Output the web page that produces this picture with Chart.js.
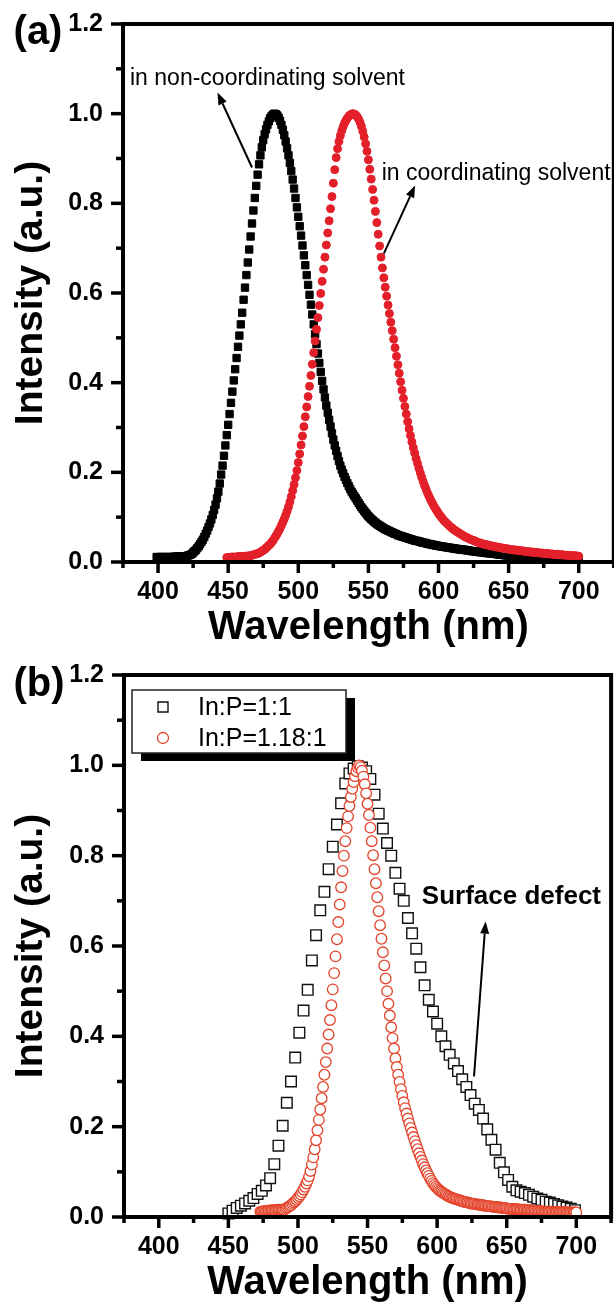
<!DOCTYPE html>
<html>
<head>
<meta charset="utf-8">
<script src="https://cdn.jsdelivr.net/npm/chart.js@4.4.1/dist/chart.umd.min.js"></script>
<style>
  html, body { margin: 0; padding: 0; background: #fff; overflow: hidden; }
  canvas { display: block; }
</style>
</head>
<body>
<canvas id="chartA" width="620" height="650"></canvas>
<canvas id="chartB" width="620" height="654"></canvas>
<script>
// ---- panel (a): PL spectra, 1 nm sampling ----
const blackAStart = 399; // in non-coordinating solvent
const blackA = [
  0.011,0.011,0.011,0.011,0.011,0.011,0.011,0.011,0.011,0.011,0.011,0.011,0.011,0.012,0.012,0.012,0.012,0.012,0.012,0.013,0.013,0.013,
  0.014,0.015,0.016,0.018,0.021,0.024,0.027,0.031,0.035,0.040,0.045,0.050,0.056,0.063,0.070,0.078,0.086,0.095,0.105,0.116,
  0.128,0.142,0.157,0.175,0.195,0.215,0.237,0.260,0.283,0.306,0.330,0.355,0.380,0.405,0.430,0.455,0.480,0.505,0.530,0.556,
  0.585,0.612,0.640,0.668,0.697,0.726,0.755,0.784,0.812,0.839,0.864,0.887,0.907,0.925,0.941,0.954,0.965,0.975,0.983,0.990,
  0.995,0.998,1.000,0.999,0.996,0.991,0.984,0.975,0.964,0.952,0.938,0.923,0.907,0.890,0.872,0.853,0.833,0.812,0.791,0.770,
  0.749,0.728,0.706,0.684,0.662,0.640,0.618,0.596,0.574,0.552,0.530,0.508,0.486,0.465,0.444,0.424,0.404,0.385,0.367,0.349,
  0.333,0.317,0.302,0.287,0.273,0.260,0.248,0.236,0.225,0.215,0.206,0.198,0.190,0.183,0.176,0.169,0.163,0.157,0.152,0.147,
  0.142,0.137,0.132,0.127,0.122,0.118,0.114,0.110,0.106,0.102,0.099,0.096,0.093,0.090,0.088,0.085,0.083,0.081,0.079,0.077,
  0.075,0.073,0.072,0.070,0.069,0.067,0.066,0.064,0.063,0.062,0.060,0.059,0.058,0.057,0.056,0.055,0.054,0.053,0.052,0.051,
  0.050,0.049,0.048,0.047,0.047,0.046,0.045,0.044,0.043,0.043,0.042,0.041,0.040,0.040,0.039,0.038,0.038,0.037,0.036,0.036,
  0.035,0.035,0.034,0.034,0.033,0.033,0.032,0.032,0.031,0.031,0.030,0.030,0.029,0.029,0.028,0.028,0.028,0.027,0.027,0.026,
  0.026,0.025,0.025,0.024,0.024,0.024,0.023,0.023,0.022,0.022,0.022,0.021,0.021,0.020,0.020,0.020,0.019,0.019,0.019,0.018,
  0.018,0.017,0.017,0.016,0.016,0.016,0.015,0.015,0.015,0.014,0.014,0.014,0.013,0.013,0.013,0.013,0.012,0.012,0.012,0.012,
  0.011,0.011,0.011,0.011,0.011,0.010,0.010,0.010,0.010,0.010,0.010,0.009,0.009,0.009,0.009,0.009,0.009,0.009,0.008,0.008,
  0.008,0.008,0.008,0.008,0.008,0.008,0.008,0.008,0.008,0.008,0.008,0.007,0.007,0.007,0.007,0.007,0.007,0.007,0.007,0.007
];
const redAStart = 449; // in coordinating solvent
const redA = [
  0.010,0.010,0.010,0.011,0.011,0.011,0.011,0.011,0.012,0.012,0.012,0.012,0.012,0.013,0.013,0.013,0.014,0.014,0.015,0.016,0.017,0.018,
  0.019,0.020,0.022,0.024,0.026,0.028,0.031,0.034,0.037,0.040,0.044,0.048,0.053,0.058,0.063,0.069,0.075,0.082,0.089,0.096,
  0.104,0.113,0.123,0.134,0.146,0.159,0.173,0.188,0.204,0.222,0.241,0.261,0.281,0.302,0.324,0.346,0.369,0.392,0.416,0.441,
  0.467,0.493,0.519,0.545,0.572,0.599,0.626,0.653,0.680,0.707,0.734,0.761,0.788,0.815,0.845,0.875,0.902,0.922,0.938,0.951,
  0.962,0.971,0.979,0.985,0.990,0.994,0.997,0.999,1.000,0.999,0.997,0.993,0.988,0.981,0.972,0.961,0.948,0.933,0.916,0.897,
  0.876,0.854,0.831,0.807,0.782,0.757,0.731,0.705,0.680,0.656,0.634,0.613,0.593,0.573,0.554,0.535,0.516,0.497,0.478,0.459,
  0.440,0.421,0.402,0.383,0.365,0.347,0.330,0.313,0.297,0.282,0.268,0.255,0.243,0.231,0.220,0.209,0.199,0.189,0.180,0.171,
  0.163,0.155,0.148,0.141,0.135,0.129,0.123,0.118,0.113,0.108,0.104,0.100,0.096,0.092,0.089,0.086,0.083,0.080,0.077,0.075,
  0.072,0.070,0.068,0.066,0.064,0.062,0.060,0.058,0.056,0.055,0.053,0.052,0.050,0.049,0.048,0.047,0.045,0.044,0.043,0.042,
  0.041,0.040,0.039,0.039,0.038,0.037,0.036,0.036,0.035,0.034,0.034,0.033,0.033,0.032,0.031,0.031,0.030,0.030,0.029,0.029,
  0.028,0.028,0.027,0.027,0.027,0.026,0.026,0.025,0.025,0.025,0.024,0.024,0.023,0.023,0.023,0.022,0.022,0.022,0.021,0.021,
  0.021,0.020,0.020,0.020,0.019,0.019,0.019,0.019,0.018,0.018,0.018,0.017,0.017,0.017,0.017,0.016,0.016,0.016,0.016,0.015,
  0.015,0.015,0.015,0.014,0.014,0.014,0.014,0.014,0.013,0.013
];

// ---- panel (b) ----
const blackBStart = 450, blackBStep = 3; // In:P=1:1
const blackB = [
  0.008,0.014,0.020,0.025,0.030,0.036,0.042,0.051,0.058,0.070,
  0.086,0.117,0.158,0.202,0.253,0.300,0.353,0.408,0.457,0.503,
  0.568,0.624,0.679,0.720,0.770,0.820,0.869,0.916,0.960,0.982,
  0.993,0.998,0.995,0.987,0.970,0.935,0.893,0.860,0.828,0.800,
  0.762,0.727,0.700,0.662,0.628,0.594,0.553,0.513,0.481,0.455,
  0.428,0.400,0.378,0.359,0.340,0.323,0.305,0.288,0.270,0.251,
  0.237,0.218,0.194,0.171,0.149,0.120,0.099,0.082,0.067,0.059,
  0.056,0.053,0.049,0.045,0.041,0.038,0.034,0.032,0.029,0.026,
  0.023,0.021,0.018,0.015
];
const redBStart = 473; // In:P=1.18:1, 1 nm sampling
const redB = [
  0.012,0.012,0.013,0.013,0.013,0.014,0.014,0.014,0.015,0.015,0.015,0.015,0.016,0.016,0.016,0.016,0.016,0.016,
  0.018,0.020,0.022,0.024,0.026,0.029,0.032,0.035,0.038,0.042,0.046,0.050,0.055,0.061,0.067,0.074,0.081,0.090,0.102,0.116,
  0.132,0.150,0.170,0.192,0.215,0.238,0.263,0.288,0.315,0.343,0.373,0.404,0.436,0.469,0.504,0.540,0.577,0.615,0.653,0.692,
  0.730,0.766,0.800,0.832,0.861,0.887,0.910,0.930,0.948,0.963,0.976,0.987,0.995,1.000,0.996,0.988,0.975,0.958,0.938,0.915,
  0.890,0.862,0.832,0.801,0.770,0.739,0.708,0.677,0.646,0.616,0.586,0.557,0.528,0.500,0.472,0.446,0.420,0.396,0.373,0.351,
  0.332,0.315,0.299,0.283,0.268,0.254,0.241,0.229,0.218,0.207,0.197,0.187,0.177,0.168,0.159,0.150,0.141,0.133,0.125,0.117,
  0.110,0.103,0.097,0.091,0.085,0.080,0.075,0.071,0.067,0.064,0.061,0.058,0.056,0.054,0.052,0.050,0.048,0.046,0.045,0.043,
  0.042,0.041,0.040,0.039,0.038,0.037,0.036,0.035,0.034,0.033,0.033,0.032,0.031,0.030,0.030,0.029,0.029,0.028,0.028,0.027,
  0.027,0.026,0.026,0.025,0.025,0.024,0.024,0.024,0.023,0.023,0.022,0.022,0.022,0.021,0.021,0.021,0.020,0.020,0.020,0.019,
  0.018,0.018,0.018,0.018,0.017,0.017,0.017,0.017,0.016,0.016,0.016,0.016,0.016,0.015,0.015,0.015,0.015,0.014,0.014,0.014,
  0.013,0.013,0.013,0.013,0.013,0.012,0.012,0.012,0.012,0.012,0.012,0.012,0.011,0.011,0.011,0.011,0.011,0.011,0.011,0.011,
  0.011,0.011,0.010,0.010,0.010,0.010,0.010,0.010,0.010,0.010
];

// axis ranges / ticks
const xMin = 375, xMax = 725, xStep = 25, xLabelStep = 50;
const yMin = 0, yMax = 1.2, yStep = 0.1;

const FONT = "'Liberation Sans', Arial, sans-serif";
const toPoints = (start, step, vals) => vals.map((v, i) => ({ x: start + i * step, y: v }));

// frame + major/minor tick marks, drawn from the scales
const framePlugin = {
  id: 'frame',
  afterDraw(chart) {
    const { ctx, chartArea: a, scales: { x, y } } = chart;
    ctx.save();
    ctx.strokeStyle = '#000';
    ctx.lineCap = 'butt';
    x.ticks.forEach(t => {
      const px = x.getPixelForValue(t.value);
      ctx.lineWidth = 3.5;
      ctx.beginPath();
      ctx.moveTo(px, a.bottom);
      ctx.lineTo(px, a.bottom + (t.value % xLabelStep === 0 ? 11 : 6));
      ctx.stroke();
    });
    y.ticks.forEach((t, i) => {
      const py = y.getPixelForValue(t.value);
      ctx.lineWidth = 3.5;
      ctx.beginPath();
      ctx.moveTo(a.left, py);
      ctx.lineTo(a.left - (i % 2 === 0 ? 12 : 7), py);
      ctx.stroke();
    });
    ctx.lineWidth = 4;
    ctx.strokeRect(a.left, a.top, a.right - a.left, a.bottom - a.top);
    ctx.restore();
  }
};

function drawArrow(ctx, x1, y1, x2, y2) {
  const ang = Math.atan2(y2 - y1, x2 - x1);
  const head = 12, half = 4.5;
  ctx.save();
  ctx.strokeStyle = '#000';
  ctx.fillStyle = '#000';
  ctx.lineWidth = 2;
  ctx.beginPath();
  ctx.moveTo(x1, y1);
  ctx.lineTo(x2 - head * Math.cos(ang), y2 - head * Math.sin(ang));
  ctx.stroke();
  ctx.translate(x2, y2);
  ctx.rotate(ang);
  ctx.beginPath();
  ctx.moveTo(0, 0);
  ctx.lineTo(-head, -half);
  ctx.lineTo(-head, half);
  ctx.closePath();
  ctx.fill();
  ctx.restore();
}

// text notes and arrows placed in data coordinates
function notesPlugin(panelLabel, notes, arrows) {
  return {
    id: 'notes',
    afterDraw(chart) {
      const { ctx, scales: { x, y } } = chart;
      ctx.save();
      ctx.fillStyle = '#000';
      ctx.font = 'bold 40px ' + FONT;
      ctx.textAlign = 'center';
      ctx.textBaseline = 'middle';
      ctx.fillText(panelLabel.text, panelLabel.cx, panelLabel.cy);
      notes.forEach(n => {
        ctx.font = n.font;
        ctx.textAlign = 'left';
        ctx.fillText(n.text, x.getPixelForValue(n.x), y.getPixelForValue(n.y));
      });
      ctx.restore();
      arrows.forEach(ar => drawArrow(ctx,
        x.getPixelForValue(ar.from[0]), y.getPixelForValue(ar.from[1]),
        x.getPixelForValue(ar.to[0]), y.getPixelForValue(ar.to[1])));
    }
  };
}

// boxed legend with a drop shadow (panel b)
const legendPlugin = {
  id: 'boxLegend',
  afterDraw(chart) {
    const { ctx, chartArea: a } = chart;
    const bx = a.left + 8, by = a.top + 15, bw = 214, bh = 63;
    ctx.save();
    ctx.fillStyle = '#000';
    ctx.fillRect(bx + 9, by + 8, bw, bh);
    ctx.fillStyle = '#fff';
    ctx.fillRect(bx, by, bw, bh);
    ctx.strokeStyle = '#222';
    ctx.lineWidth = 1.5;
    ctx.strokeRect(bx, by, bw, bh);
    const items = [chart.data.datasets[1], chart.data.datasets[0]];
    items.forEach((ds, i) => {
      const cy = by + 17 + i * 31, cx = bx + 31;
      ctx.lineWidth = ds.borderWidth;
      ctx.strokeStyle = ds.borderColor;
      ctx.fillStyle = '#fff';
      ctx.beginPath();
      if (ds.pointStyle === 'rect') {
        ctx.rect(cx - 5, cy - 5, 10, 10);
      } else {
        ctx.arc(cx, cy, 5.5, 0, Math.PI * 2);
      }
      ctx.fill();
      ctx.stroke();
      ctx.fillStyle = '#000';
      ctx.font = '25px ' + FONT;
      ctx.textAlign = 'left';
      ctx.textBaseline = 'middle';
      ctx.fillText(ds.label, bx + 66, cy + 1);
    });
    ctx.restore();
  }
};

function buildPanel(id, datasets, cfg, plugins) {
  return new Chart(document.getElementById(id), {
    type: 'scatter',
    data: { datasets },
    options: {
      responsive: false,
      animation: false,
      events: [],
      layout: { padding: { top: cfg.top, right: 620 - cfg.right, left: 0, bottom: 0 } },
      plugins: { legend: { display: false }, tooltip: { enabled: false } },
      scales: {
        x: {
          type: 'linear', min: xMin, max: xMax,
          afterFit: s => { s.height = cfg.height - cfg.bottom; },
          ticks: {
            stepSize: xStep, autoSkip: false, maxRotation: 0, padding: 4, color: '#000',
            font: { family: FONT, size: 25, weight: 'bold' },
            callback: v => (v % xLabelStep === 0 ? String(v) : '')
          },
          grid: { display: false, drawTicks: true, tickLength: 11 },
          border: { display: false },
          title: {
            display: true, text: 'Wavelength (nm)', color: '#000',
            font: { family: FONT, size: 40, weight: 'bold', lineHeight: 1 },
            padding: { top: 0, bottom: cfg.titlePad }
          }
        },
        y: {
          type: 'linear', min: yMin, max: yMax,
          afterFit: s => { s.width = cfg.left; },
          ticks: {
            stepSize: yStep, autoSkip: false, padding: 9, color: '#000',
            font: { family: FONT, size: 25, weight: 'bold' },
            callback: (v, i) => (i % 2 === 0 ? v.toFixed(1) : '')
          },
          grid: { display: false, drawTicks: true, tickLength: 11 },
          border: { display: false },
          title: {
            display: true, text: 'Intensity (a.u.)', color: '#000',
            font: { family: FONT, size: 39, weight: 'bold', lineHeight: 1 },
            padding: { top: 12, bottom: 0 }
          }
        }
      }
    },
    plugins: [framePlugin].concat(plugins)
  });
}

buildPanel('chartA', [
  {
    label: 'in coordinating solvent',
    data: toPoints(redAStart, 1, redA),
    pointStyle: 'circle', pointRadius: 4, borderWidth: 1,
    backgroundColor: '#e3202a', borderColor: '#e3202a', showLine: false, clip: false
  },
  {
    label: 'in non-coordinating solvent',
    data: toPoints(blackAStart, 1, blackA),
    pointStyle: 'rect', pointRadius: 5.2, borderWidth: 1,
    backgroundColor: '#000', borderColor: '#000', showLine: false, clip: false
  }
], { top: 23, bottom: 562, height: 650, left: 123, right: 616, titlePad: 2 }, [
  notesPlugin({ text: '(a)', cx: 38, cy: 33 }, [
    { text: 'in non-coordinating solvent', x: 380, y: 1.077, font: '23px ' + FONT },
    { text: 'in coordinating solvent', x: 559.5, y: 0.866, font: '23px ' + FONT }
  ], [
    { from: [467, 0.88], to: [442.4, 1.047] },
    { from: [561, 0.688], to: [583.3, 0.84] }
  ])
]);

buildPanel('chartB', [
  {
    label: 'In:P=1.18:1',
    data: toPoints(redBStart, 1, redB),
    pointStyle: 'circle', pointRadius: 5.3, borderWidth: 1.3,
    backgroundColor: '#fff', borderColor: '#e4432a', showLine: false, clip: false
  },
  {
    label: 'In:P=1:1',
    data: toPoints(blackBStart, blackBStep, blackB),
    pointStyle: 'rect', pointRadius: 7.5, borderWidth: 1.4,
    backgroundColor: '#fff', borderColor: '#111', showLine: false, clip: false
  }
], { top: 25, bottom: 567, height: 654, left: 124, right: 617, titlePad: 1 }, [
  legendPlugin,
  notesPlugin({ text: '(b)', cx: 39, cy: 35 }, [
    { text: 'Surface defect', x: 589, y: 0.708, font: 'bold 26px ' + FONT }
  ], [
    { from: [626.5, 0.311], to: [634.8, 0.654] }
  ])
]);
</script>
</body>
</html>
